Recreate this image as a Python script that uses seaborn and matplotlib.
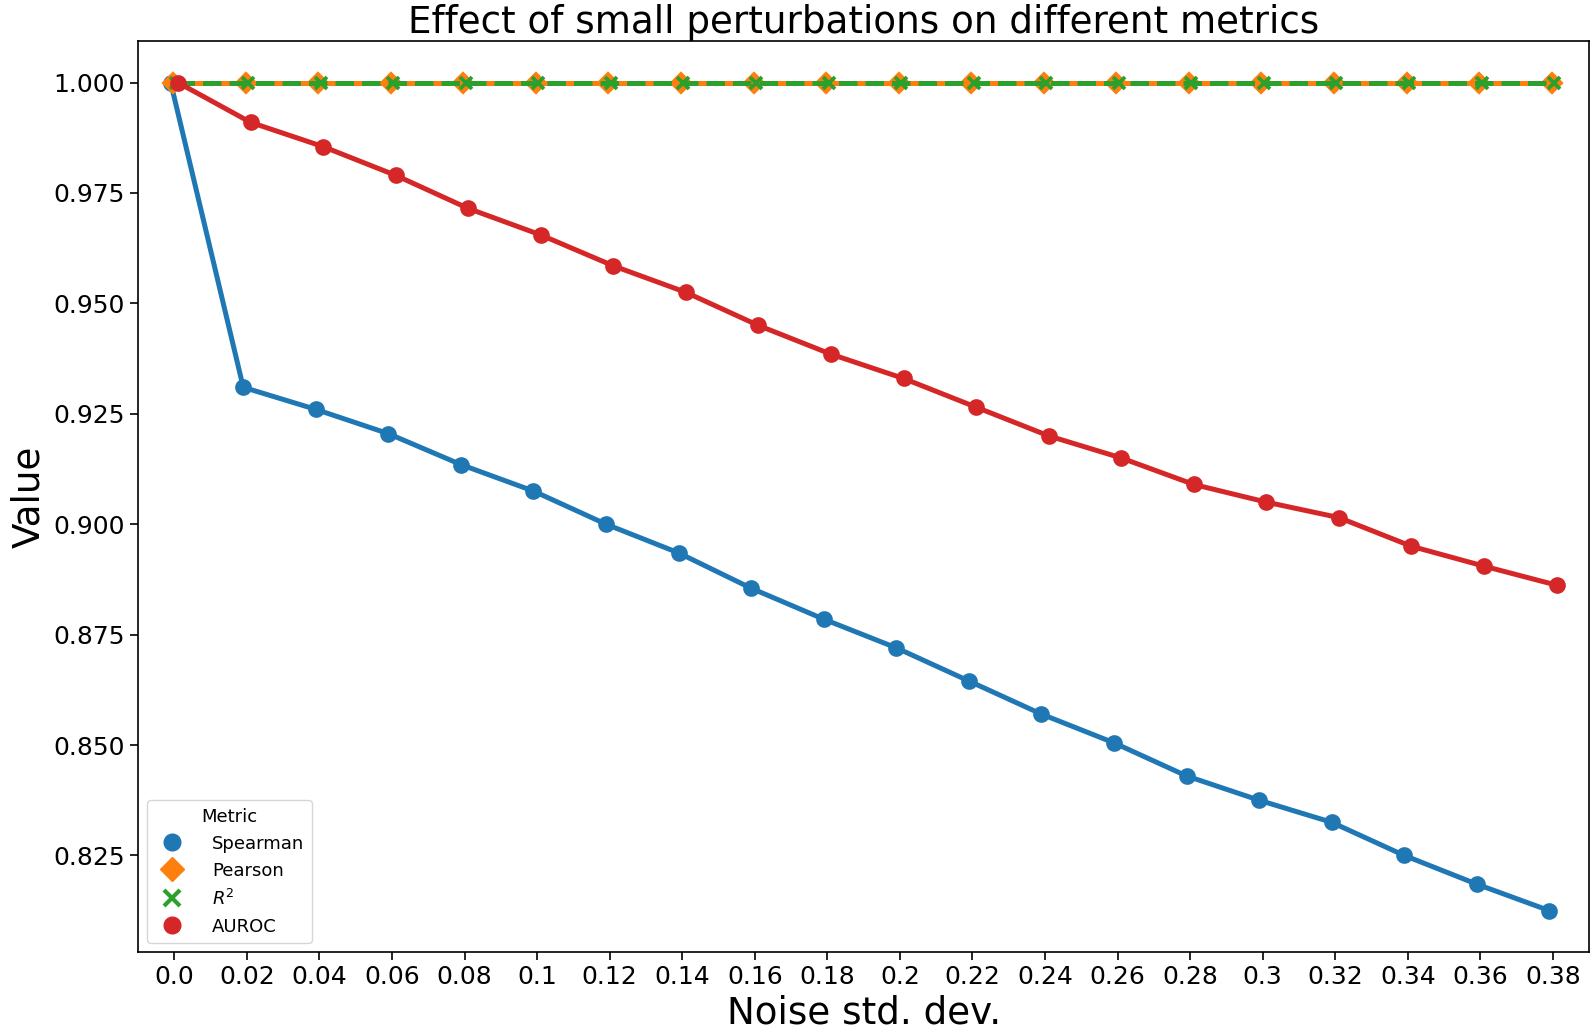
"""
Effect of small perturbations on different metrics
"""

import numpy as np
import pandas as pd
import matplotlib
matplotlib.use("Agg")
import matplotlib.pyplot as plt
from matplotlib.lines import Line2D
import seaborn as sns

# Noise levels (categorical x axis)
noise_levels = ["0.0", "0.02", "0.04", "0.06", "0.08", "0.1", "0.12", "0.14", "0.16", "0.18",
                "0.2", "0.22", "0.24", "0.26", "0.28", "0.3", "0.32", "0.34", "0.36", "0.38"]

spearman = [1.000, 0.931, 0.926, 0.9205, 0.9135, 0.9075, 0.900, 0.8935, 0.8855, 0.8785,
            0.872, 0.8645, 0.857, 0.8505, 0.843, 0.8375, 0.8325, 0.825, 0.8185, 0.8125]
pearson = [1.0] * 20
r2 = [1.0] * 20
auroc = [1.000, 0.991, 0.9855, 0.979, 0.9715, 0.9655, 0.9585, 0.9525, 0.945, 0.9385,
         0.933, 0.9265, 0.920, 0.915, 0.909, 0.905, 0.9015, 0.895, 0.8905, 0.8862]

metrics = ["Spearman", "Pearson", "$R^2$", "AUROC"]
markers = ["o", "D", "x", "o"]
linestyles = ["-", "-", "--", "-"]
colors = ["#1f77b4", "#ff7f0e", "#2ca02c", "#d62728"]


def construire_donnees():
    """Long-form table for seaborn"""
    series = [spearman, pearson, r2, auroc]
    lignes = []
    for nom, valeurs in zip(metrics, series):
        for x, v in zip(noise_levels, valeurs):
            lignes.append({"Noise std. dev.": x, "Value": v, "Metric": nom})
    return pd.DataFrame(lignes)


def tracer(df):
    fig, ax = plt.subplots(figsize=(15.94, 10.29), dpi=100)
    fig.subplots_adjust(left=0.0866, right=0.997, top=0.960, bottom=0.0748)

    sns.pointplot(data=df, x="Noise std. dev.", y="Value", hue="Metric",
                  order=noise_levels, hue_order=metrics, palette=colors,
                  markers=markers, linestyles=linestyles, dodge=True,
                  errorbar=None, linewidth=3.6, markersize=9.3,
                  markeredgewidth=2.7, ax=ax)

    ax.set_title("Effect of small perturbations on different metrics", fontsize=26.8)
    ax.set_xlabel("Noise std. dev.", fontsize=26.8)
    ax.set_ylabel("Value", fontsize=26.8)
    ax.tick_params(axis="both", labelsize=18, length=6, width=1.2)
    ax.set_yticks([0.825, 0.85, 0.875, 0.9, 0.925, 0.95, 0.975, 1.0])
    ax.yaxis.set_major_formatter(matplotlib.ticker.FormatStrFormatter("%.3f"))
    for s in ax.spines.values():
        s.set_linewidth(1.2)

    # legend with markers only
    handles = [Line2D([], [], linestyle="none", marker=m, color=c, markersize=12,
                      markeredgewidth=3 if m == "x" else 1)
               for m, c in zip(markers, colors)]
    ax.legend(handles, metrics, title="Metric", loc="lower left",
              fontsize=13, title_fontsize=13, handletextpad=1.2)

    fig.savefig("out.png", dpi=100)
    plt.close(fig)


if __name__ == "__main__":
    tracer(construire_donnees())
